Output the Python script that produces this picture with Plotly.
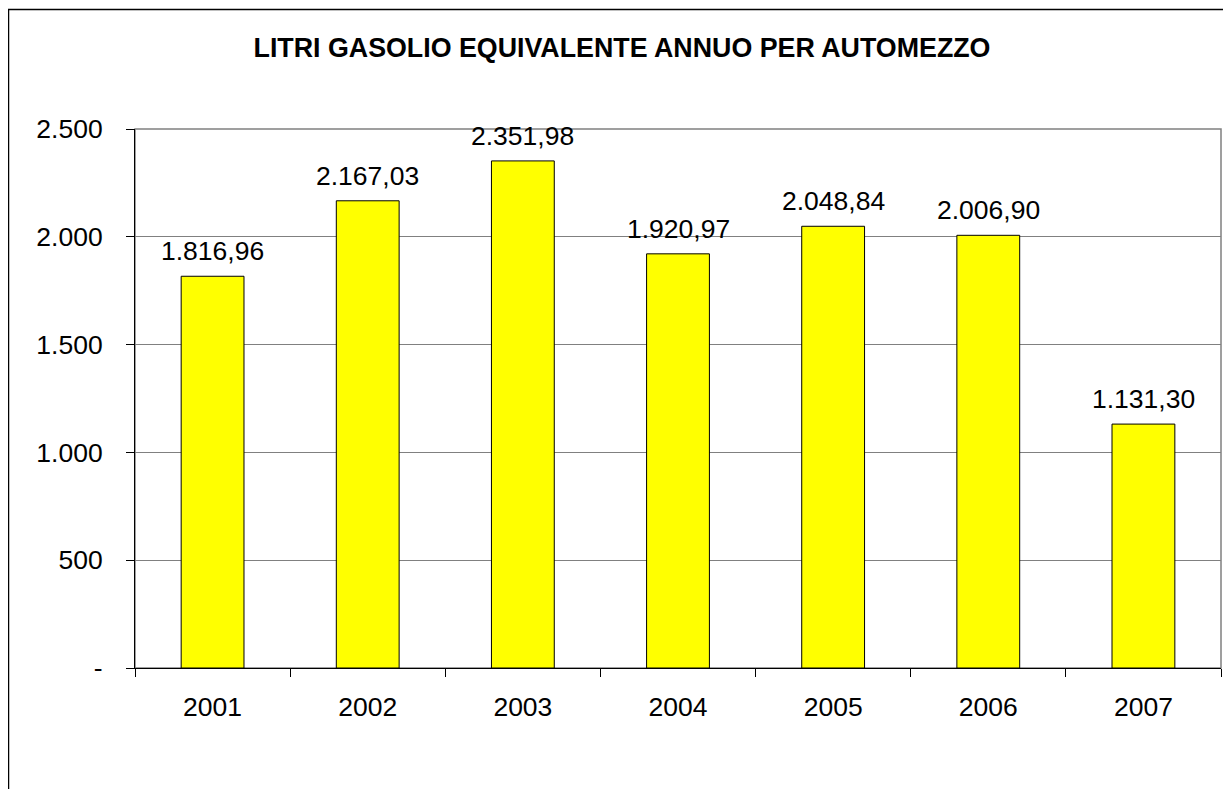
import plotly.graph_objects as go

years = ["2001", "2002", "2003", "2004", "2005", "2006", "2007"]
litri = [1816.96, 2167.03, 2351.98, 1920.97, 2048.84, 2006.90, 1131.30]
y_tickvals = [0, 500, 1000, 1500, 2000, 2500]
y_ticktext = ["-", "500", "1.000", "1.500", "2.000", "2.500"]
title_text = "LITRI GASOLIO EQUIVALENTE ANNUO PER AUTOMEZZO"

FONT = "Arial, Liberation Sans, sans-serif"
FS = 26.5
# the page body has an 8px margin; figure coords = page coords - 8
W, H = 1240, 800
L, R, T, B = 127, 1213, 121, 660


def it_fmt(v):
    s = f"{v:,.2f}"
    return s.replace(",", "X").replace(".", ",").replace("X", ".")


fig = go.Figure()
fig.add_trace(go.Bar(
    x=years, y=litri,
    marker=dict(color="#FFFF00", line=dict(color="#000000", width=1)),
    hoverinfo="skip",
))

for i, v in enumerate(litri):
    fig.add_annotation(x=i, y=v, xref="x", yref="y", text=it_fmt(v), showarrow=False,
                       yanchor="middle", yshift=25,
                       font=dict(family=FONT, size=FS, color="#000000"))

pw = R - L
ph = B - T
# plot area border (gray)
fig.add_shape(type="rect", xref="paper", yref="paper", x0=0, x1=1, y0=0, y1=1,
              line=dict(color="#808080", width=1.5), layer="below")
# chart outer border (black)
fig.add_shape(type="rect", xref="paper", yref="paper",
              x0=(0.5 - L) / pw, x1=(W + 30 - L) / pw,
              y0=(B - (H + 30)) / ph, y1=(B - 1.5) / ph,
              line=dict(color="#000000", width=1.5), layer="above")

fig.update_layout(
    width=W, height=H,
    margin=dict(l=L, r=W - R, t=T, b=H - B),
    paper_bgcolor="white", plot_bgcolor="white",
    showlegend=False,
    bargap=0.595,
    font=dict(family=FONT, size=FS, color="#000000"),
    title=dict(text="<b>" + title_text + "</b>", x=614 / W, xanchor="center",
               xref="container", yref="container",
               y=1 - 40 / H, yanchor="middle",
               font=dict(family=FONT, size=26.8, color="#000000")),
)
fig.update_xaxes(
    type="category", range=[-0.5, 6.5], showline=True, linecolor="#000000", linewidth=1,
    ticks="outside", ticklen=8, tickcolor="#000000", tickson="boundaries",
    showgrid=False, tickfont=dict(size=FS), ticklabelstandoff=15, tickangle=0,
)
fig.update_yaxes(
    range=[0, 2500], tickvals=y_tickvals, ticktext=y_ticktext,
    showline=True, linecolor="#000000", linewidth=1,
    ticks="outside", ticklen=8, tickcolor="#000000",
    showgrid=True, gridcolor="#808080", gridwidth=1, zeroline=False,
    tickfont=dict(size=FS), ticklabelstandoff=18,
)

fig.write_html("out.html",
               post_script="document.documentElement.style.overflow='hidden';"
                           "document.body.style.overflow='hidden';")
